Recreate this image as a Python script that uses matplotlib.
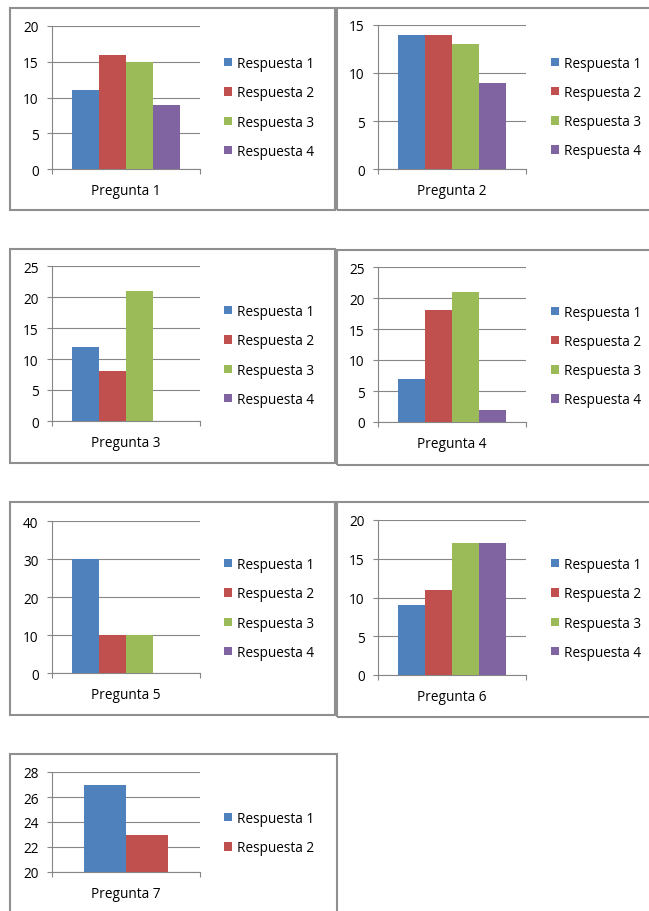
import matplotlib
matplotlib.use("Agg")
import matplotlib.pyplot as plt
from matplotlib.patches import Rectangle, Patch

W, H = 649, 912
DPI = 100

series_names = ["Respuesta 1", "Respuesta 2", "Respuesta 3", "Respuesta 4"]
colors = ["#4F81BD", "#C0504D", "#9BBB59", "#8064A2"]

questions = ["Pregunta 1", "Pregunta 2", "Pregunta 3", "Pregunta 4",
             "Pregunta 5", "Pregunta 6", "Pregunta 7"]
p1 = [11, 16, 15, 9]
p2 = [14, 14, 13, 9]
p3 = [12, 8, 21, 0]
p4 = [7, 18, 21, 2]
p5 = [30, 10, 10, 0]
p6 = [9, 11, 17, 17]
p7 = [27, 23]
values = [p1, p2, p3, p4, p5, p6, p7]

y_ranges = [(0, 20, 5), (0, 15, 5), (0, 25, 5), (0, 25, 5),
            (0, 40, 10), (0, 20, 5), (20, 28, 2)]

# layout in pixels: (border x0, y0, x1, y1), (axis x, top y, bottom y), legend (x, center y)
borders = [(10, 9, 335, 211), (337, 9, 660, 211),
           (10, 250, 335, 464), (337, 251, 660, 466),
           (10, 503, 335, 716), (337, 503, 660, 718),
           (10, 755, 337, 930)]
plots = [(52, 27, 170), (378, 26, 170),
         (52, 267, 422), (378, 268, 423),
         (52, 522, 674), (378, 521, 676),
         (52, 773, 873)]
legends = [(224, 108.5), (551, 108),
           (224, 356.5), (551, 357),
           (224, 609.5), (551, 609.5),
           (224, 834)]
PLOT_W = 148

FONT = "Open Sans"
FS = 9.8
plt.rcParams['font.family'] = [FONT, 'DejaVu Sans']

fig = plt.figure(figsize=(W / DPI, H / DPI), dpi=DPI)
fig.patch.set_facecolor("white")

def fx(px):
    return px / W

def fy(py):
    return 1 - py / H

for (bx0, by0, bx1, by1) in borders:
    fig.patches.append(Rectangle((fx(bx0), fy(by1)), fx(bx1) - fx(bx0), fy(by0) - fy(by1),
                                 transform=fig.transFigure, fill=False,
                                 edgecolor="#8f8f8f", linewidth=1.5, zorder=0))

grid_c = "#868686"
for i, vals in enumerate(values):
    ax_x, top, bot = plots[i]
    ax = fig.add_axes([fx(ax_x), fy(bot), PLOT_W / W, (bot - top) / H])
    n = len(vals)
    w = 1.0 / (n + 1.5)
    ymin, ymax, step = y_ranges[i]
    for j, v in enumerate(vals):
        xc = -n * w / 2 + (j + 0.5) * w
        ax.bar(xc, v - ymin, bottom=ymin, width=w, color=colors[j], zorder=3,
               edgecolor="none", label=series_names[j])
    ax.set_xlim(-0.5, 0.5)
    ax.set_ylim(ymin, ymax)
    ticks = list(range(ymin, ymax + 1, step))
    ax.set_yticks(ticks)
    ax.set_yticklabels([str(t) for t in ticks], fontsize=FS)
    for t in ticks:
        ax.axhline(t, color=grid_c, linewidth=0.8, zorder=1)
    for s in ["top", "right"]:
        ax.spines[s].set_visible(False)
    ax.spines["left"].set_color(grid_c)
    ax.spines["bottom"].set_color(grid_c)
    ax.spines["left"].set_linewidth(0.8)
    ax.spines["bottom"].set_linewidth(0.8)
    ax.tick_params(axis="y", length=3.6, width=0.8, color=grid_c, pad=6, labelsize=FS)
    ax.set_xticks([-0.5, 0.5])
    ax.set_xticklabels(["", ""])
    ax.tick_params(axis="x", length=3.6, width=0.8, color=grid_c, direction="out")
    ax.annotate(questions[i], xy=(0.5, 0), xycoords="axes fraction",
                xytext=(0, -21.5 * 72 / DPI), textcoords="offset points",
                ha="center", va="center", fontsize=FS)
    ax.set_facecolor("none")
    handles = [Patch(facecolor=colors[j], edgecolor="none") for j in range(n)]
    lx, lyc = legends[i]
    fig.legend(handles, series_names[:n], loc="center left",
               bbox_to_anchor=(fx(lx), fy(lyc)), bbox_transform=fig.transFigure,
               frameon=False, fontsize=FS, handlelength=0.58, handleheight=0.58,
               handletextpad=0.4, labelspacing=1.05, borderpad=0, borderaxespad=0)

fig.savefig("out.png", dpi=DPI, facecolor="white")
